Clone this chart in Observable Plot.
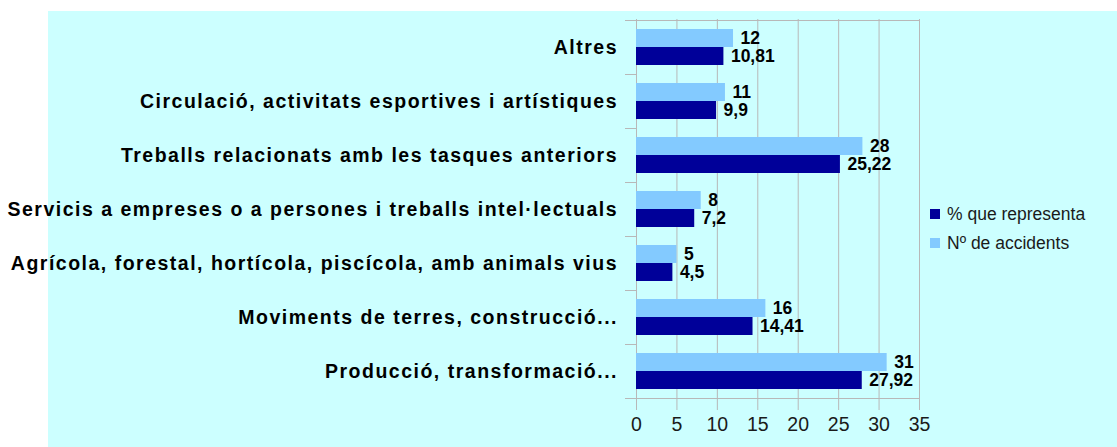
<!DOCTYPE html>
<html>
<head>
<meta charset="utf-8">
<script src="https://cdn.jsdelivr.net/npm/d3@7"></script>
<script src="https://cdn.jsdelivr.net/npm/@observablehq/plot@0.6"></script>
<style>
  html, body { margin: 0; padding: 0; background: #ffffff; }
  body { width: 1117px; height: 447px; position: relative; overflow: hidden; font-family: "Liberation Sans", Arial, sans-serif; }
  #bg { position: absolute; left: 48px; top: 11px; right: 0; bottom: 0; background: #ccffff; }
  #chart { position: absolute; left: 0; top: 0; }
  #chart svg { background: transparent; overflow: visible; }
  #legend { position: absolute; left: 930px; top: 202px; font-size: 17.5px; color: #1a1a1a; }
  .item { position: relative; height: 28.5px; line-height: 24px; padding-left: 17px; white-space: nowrap; }
  .sw { position: absolute; left: 0; top: 7px; width: 10px; height: 10px; }
</style>
</head>
<body>
<div id="bg"></div>
<div id="chart"></div>
<div id="legend"></div>
<script>
const categories = [
  "Altres",
  "Circulació, activitats esportives i artístiques",
  "Treballs relacionats amb les tasques anteriors",
  "Servicis a empreses o a persones i treballs intel·lectuals",
  "Agrícola, forestal, hortícola, piscícola, amb animals vius",
  "Moviments de terres, construcció...",
  "Producció, transformació..."
];
const accidents = [12, 11, 28, 8, 5, 16, 31];
const percent = [10.81, 9.9, 25.22, 7.2, 4.5, 14.41, 27.92];
const seriesNames = ["% que representa", "Nº de accidents"];
const xTicks = [0, 5, 10, 15, 20, 25, 30, 35];

const darkColor = "#000099";
const lightColor = "#83caff";
const gridColor = "#b8b8b8";

const accData = categories.map((c, i) => ({cat: c, value: accidents[i]}));
const pctData = categories.map((c, i) => ({cat: c, value: percent[i]}));
const fmt = v => String(v).replace(".", ",");

function bandTicks(index, scales, values, dims) {
  const y = scales.y, x = scales.x;
  const dom = y.domain();
  const bw = y.bandwidth();
  const x0 = x(0);
  const x1 = x(xTicks[xTicks.length - 1]);
  const g = d3.create("svg:g").attr("stroke", gridColor).attr("transform", "translate(0,0.5)");
  dom.forEach((c, i) => {
    const yy = y(c);
    g.append("line").attr("x1", x0 - 11).attr("x2", i === 0 ? x1 : x0).attr("y1", yy).attr("y2", yy);
  });
  const yb = y(dom[dom.length - 1]) + bw;
  g.append("line").attr("x1", x0 - 11).attr("x2", x1).attr("y1", yb).attr("y2", yb);
  return g.node();
}

const chart = Plot.plot({
  width: 1117,
  height: 447,
  marginLeft: 636,
  marginRight: 198,
  marginTop: 19,
  marginBottom: 48,
  style: {background: "transparent", fontFamily: "'Liberation Sans', Arial, sans-serif"},
  x: {domain: [0, 35], axis: null},
  y: {domain: categories, padding: 0, axis: null},
  marks: [
    Plot.ruleX(xTicks, {x: d => d, stroke: gridColor, insetBottom: -11}),
    bandTicks,
    Plot.barX(accData, {x: "value", y: "cat", fill: lightColor, insetTop: 9, insetBottom: 27}),
    Plot.barX(pctData, {x: "value", y: "cat", fill: darkColor, insetTop: 27, insetBottom: 9}),
    Plot.text(accData, {x: "value", y: "cat", text: d => fmt(d.value), dx: 7, dy: -9, textAnchor: "start", fontWeight: "bold", fontSize: 17.5, fill: "#000"}),
    Plot.text(pctData, {x: "value", y: "cat", text: d => fmt(d.value), dx: 7, dy: 9, textAnchor: "start", fontWeight: "bold", fontSize: 17.5, fill: "#000"}),
    Plot.text(categories, {y: d => d, text: d => d, frameAnchor: "left", dx: -18.5, textAnchor: "end", fontWeight: "bold", fontSize: 19.5, fill: "#000"}),
    Plot.text(xTicks, {x: d => d, text: d => String(d), frameAnchor: "bottom", dy: 31, fontSize: 19.5, fill: "#1a1a1a"})
  ]
});
const catSet = new Set(categories);
d3.select(chart).selectAll("text").each(function() {
  if (catSet.has(this.textContent)) this.setAttribute("letter-spacing", "1.5px");
});
document.getElementById("chart").appendChild(chart);

const legend = document.getElementById("legend");
[[seriesNames[0], darkColor], [seriesNames[1], lightColor]].forEach(([name, color]) => {
  const item = document.createElement("div");
  item.className = "item";
  const sw = document.createElement("span");
  sw.className = "sw";
  sw.style.background = color;
  item.appendChild(sw);
  item.appendChild(document.createTextNode(name));
  legend.appendChild(item);
});
</script>
</body>
</html>
